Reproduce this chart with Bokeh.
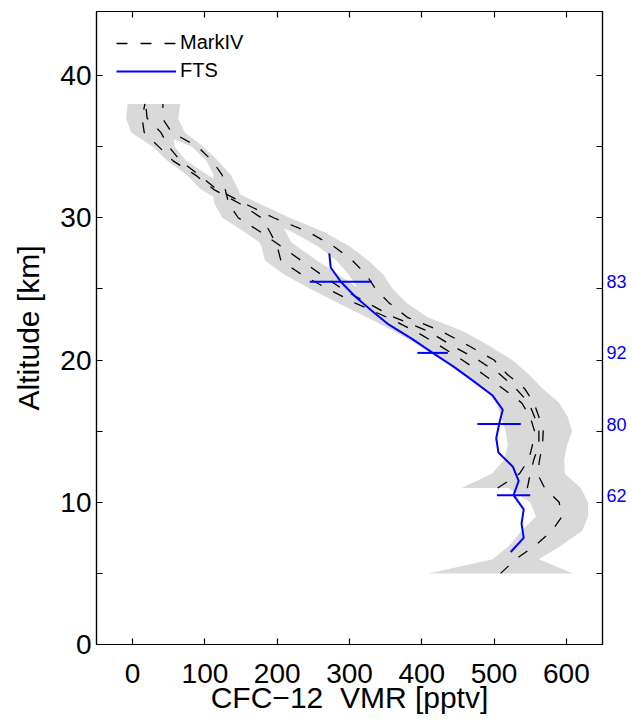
from bokeh.plotting import figure
from bokeh.models import Range1d, FixedTicker, LinearAxis, Legend, LegendItem
from bokeh.embed import file_html
from bokeh.resources import INLINE

# ---------------- data ----------------
# MarkIV profiles (CFC-12 VMR in pptv) and their altitude grids (km)
mk_err_alt = list(range(5, 39))
mk_err = [100, 32, 36, 42, 36, 40, 50, 38, 34, 34, 40, 40, 35, 25, 30, 25, 28,
          30, 28, 24, 24, 24, 22, 22, 22, 22, 20, 18, 12, 8, 8, 18, 22, 24]

mk1_alt = list(range(11, 39))
mk1 = [505, 535, 548, 553, 556, 550, 538, 512, 485, 456, 425, 392, 352, 308,
       270, 234, 205, 200, 190, 178, 148, 112, 87, 56, 36, 16, 13, 17]

mk2_alt = list(range(11, 39))
mk2 = [546, 550, 555, 562, 562, 556, 548, 530, 508, 478, 442, 410, 362, 325,
       290, 261, 233, 205, 177, 146, 133, 128, 124, 110, 90, 54, 41, 42]

mk3_alt = list(range(5, 39))
mk3 = [509, 530, 558, 580, 594, 590, 570, 560, 563, 567, 568, 562, 555, 542,
       518, 500, 465, 428, 380, 355, 336, 323, 304, 278, 243, 195, 155, 116,
       92, 66, 50, 39, 20, 18]

# FTS profile
fts_alt = [27.5, 26.5, 25.5, 24.5, 23.5, 22.5, 21.5, 20.5, 19.5, 18.5, 17.5,
           16.5, 15.5, 14.5, 13.5, 12.5, 11.5, 10.5, 9.5, 8.5, 7.5, 6.5]
fts = [272, 274, 288, 307, 330, 354, 386, 415, 445, 472, 498,
       512, 507, 503, 506, 526, 534, 527, 541, 538, 541, 523]

# FTS error bars and number of coincidences
eb_alt = [25.5, 20.5, 15.5, 10.5]
eb_val = [288, 415, 507, 527]
eb_err = [43, 21, 30, 23]
eb_count = ["83", "92", "80", "62"]

x_ticks = [0, 100, 200, 300, 400, 500, 600]
y_ticks = [0, 10, 20, 30, 40]
y_minor = [5, 15, 25, 35]

FONT = "Liberation Sans"
GRAY = "#d9d9d9"

p = figure(frame_width=506, frame_height=633,
           x_range=Range1d(-50, 650), y_range=Range1d(0, 44.5),
           output_backend="svg", toolbar_location=None,
           min_border_left=96, min_border_top=11, min_border_right=22,
           min_border_bottom=60, background_fill_color="white",
           border_fill_color="white")
p.xgrid.visible = False
p.ygrid.visible = False
p.outline_line_color = "black"
p.outline_line_width = 1.2

err_map = dict(zip(mk_err_alt, mk_err))


def band(alts, vals):
    e = [err_map[a] for a in alts]
    lo = [v - d for v, d in zip(vals, e)]
    hi = [v + d for v, d in zip(vals, e)]
    p.harea(y=alts, x1=lo, x2=hi, fill_color=GRAY, fill_alpha=1.0)


band(mk1_alt, mk1)
band(mk2_alt, mk2)
band(mk3_alt, mk3)

dash = "11 13"
r_mk = p.line(mk1, mk1_alt, line_color="black", line_dash=dash, line_width=1.3)
p.line(mk2, mk2_alt, line_color="black", line_dash=dash, line_width=1.3)
p.line(mk3, mk3_alt, line_color="black", line_dash=dash, line_width=1.3)

r_fts = p.line(fts, fts_alt, line_color="#0000ff", line_width=2)
p.segment(x0=[v - e for v, e in zip(eb_val, eb_err)],
          x1=[v + e for v, e in zip(eb_val, eb_err)],
          y0=eb_alt, y1=eb_alt, line_color="#0000ff", line_width=2)

# bottom axis
xa = p.xaxis[0]
xa.ticker = FixedTicker(ticks=x_ticks)
xa.axis_label = "CFC\u221212\u00a0\u00a0VMR [pptv]"
xa.major_tick_in = 6
xa.major_tick_out = 0
xa.major_label_standoff = 19
xa.axis_label_standoff = -5

ya = p.yaxis[0]
ya.ticker = FixedTicker(ticks=y_ticks, minor_ticks=y_minor)
ya.axis_label = "Altitude [km]"
ya.major_tick_in = 6
ya.major_tick_out = 0
ya.minor_tick_in = 6
ya.minor_tick_out = 0
ya.major_label_standoff = 5
ya.axis_label_standoff = 12

for ax in [xa, ya]:
    ax.major_label_text_font = FONT
    ax.major_label_text_font_size = "28px"
    ax.major_label_text_color = "black"
    ax.axis_label_text_font = FONT
    ax.axis_label_text_font_size = "30px"
    ax.axis_label_text_font_style = "normal"
    ax.axis_label_text_color = "black"
    ax.axis_line_color = "black"
    ax.axis_line_width = 1.2
    ax.major_tick_line_color = "black"
    ax.minor_tick_line_color = "black"
    ax.major_tick_line_width = 1.2
    ax.minor_tick_line_width = 1.2
xa.minor_tick_line_color = None

# top axis (ticks only)
top = LinearAxis(ticker=FixedTicker(ticks=x_ticks), major_tick_in=6,
                 major_tick_out=0, minor_tick_line_color=None,
                 major_label_text_font_size="0px", major_label_standoff=0,
                 axis_line_color="black", major_tick_line_color="black",
                 axis_line_width=1.2, major_tick_line_width=1.2)
top.major_label_overrides = {t: "" for t in x_ticks}
p.add_layout(top, "above")

# right axis: tick marks every 5 km, labels with number of coincidences
right = LinearAxis(ticker=FixedTicker(ticks=eb_alt,
                                      minor_ticks=y_minor + y_ticks[1:]),
                   major_tick_in=0, major_tick_out=0,
                   minor_tick_in=6, minor_tick_out=0,
                   major_label_standoff=4,
                   major_label_text_color="#0000ff",
                   major_label_text_font=FONT,
                   major_label_text_font_size="18px",
                   axis_line_color="black", minor_tick_line_color="black",
                   axis_line_width=1.2, minor_tick_line_width=1.2)
right.major_label_overrides = {a: c for a, c in zip(eb_alt, eb_count)}
p.add_layout(right, "right")

legend = Legend(items=[LegendItem(label="MarkIV", renderers=[r_mk]),
                       LegendItem(label="FTS", renderers=[r_fts])],
                location="top_left", border_line_alpha=0,
                background_fill_alpha=0, label_text_font=FONT,
                label_text_color="black",
                label_text_font_size="20px", glyph_width=60,
                glyph_height=20, label_height=20, spacing=5,
                padding=7, margin=13, label_standoff=4)
p.add_layout(legend)

open("out.html", "w").write(file_html(p, INLINE))
